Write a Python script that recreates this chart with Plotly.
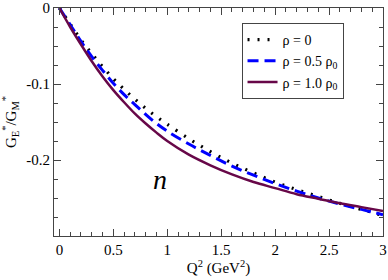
import plotly.graph_objects as go

q2_rho0 = [0, 0.1, 0.2, 0.3, 0.4, 0.5, 0.6, 0.7, 0.8, 0.9, 1.0, 1.2, 1.4, 1.6, 1.8, 2.0, 2.2, 2.4, 2.6, 2.8, 3.0]
ratio_rho0 = [0, -0.021, -0.042, -0.060, -0.077, -0.093, -0.107, -0.120, -0.132, -0.143, -0.153,
              -0.172, -0.189, -0.204, -0.217, -0.229, -0.239, -0.248, -0.257, -0.265, -0.273]

q2_rho05 = [0, 0.1, 0.2, 0.3, 0.4, 0.5, 0.6, 0.7, 0.8, 0.9, 1.0, 1.2, 1.4, 1.6, 1.8, 2.0, 2.2, 2.4, 2.6, 2.8, 3.0]
ratio_rho05 = [0, -0.022, -0.044, -0.064, -0.082, -0.099, -0.114, -0.127, -0.140, -0.152, -0.162,
               -0.179, -0.194, -0.208, -0.220, -0.231, -0.241, -0.250, -0.258, -0.265, -0.272]

q2_rho10 = [0, 0.1, 0.2, 0.3, 0.4, 0.5, 0.6, 0.7, 0.8, 0.9, 1.0, 1.2, 1.4, 1.6, 1.8, 2.0, 2.2, 2.4, 2.6, 2.8, 3.0]
ratio_rho10 = [0, -0.025, -0.048, -0.070, -0.090, -0.108, -0.124, -0.139, -0.152, -0.164, -0.175,
               -0.193, -0.207, -0.219, -0.229, -0.237, -0.245, -0.251, -0.257, -0.262, -0.267]

names = ["ρ = 0", "ρ = 0.5 ρ<sub>0</sub>", "ρ = 1.0 ρ<sub>0</sub>"]

x_tickvals = [0, 0.5, 1, 1.5, 2, 2.5, 3]
x_ticktext = ["0", "0.5", "1", "1.5", "2", "2.5", "3"]
y_tickvals = [0, -0.1, -0.2, -0.3]
y_ticktext = ["0", "-0.1", "-0.2", ""]

FONT = "Liberation Serif"

fig = go.Figure()
fig.add_trace(go.Scatter(x=q2_rho0, y=ratio_rho0, mode="lines", name=names[0],
                         line=dict(color="black", width=3.2, dash="2px,8px", shape="spline")))
fig.add_trace(go.Scatter(x=q2_rho05, y=ratio_rho05, mode="lines", name=names[1],
                         line=dict(color="#0000ff", width=3, dash="11px,6px", shape="spline")))
fig.add_trace(go.Scatter(x=q2_rho10, y=ratio_rho10, mode="lines", name=names[2],
                         line=dict(color="#670748", width=2.5, shape="spline")))

axis_common = dict(showline=True, linecolor="#444", linewidth=1, mirror="ticks",
                   ticks="inside", ticklen=7, tickcolor="#444", showgrid=False,
                   zeroline=False, automargin=False, ticklabeloverflow="allow",
                   tickfont=dict(family=FONT, size=15, color="black"))

fig.update_xaxes(range=[-0.05, 3], tickvals=x_tickvals, ticktext=x_ticktext,
                 minor=dict(dtick=0.1, tick0=0, ticks="inside", ticklen=4, tickcolor="#444"),
                 title=dict(text="Q<sup>2</sup> (GeV<sup>2</sup>)", font=dict(family=FONT, size=15, color="black"),
                            standoff=0),
                 **axis_common)
fig.update_yaxes(range=[-0.3, 0], tickvals=y_tickvals, ticktext=y_ticktext,
                 minor=dict(dtick=0.025, tick0=0, ticks="inside", ticklen=4, tickcolor="#444"),
                 title=dict(text="G<sub>E</sub><sup>*</sup>/G<sub>M</sub><sup>*</sup>",
                            font=dict(family=FONT, size=15, color="black"), standoff=6),
                 **axis_common)

fig.add_annotation(x=0.93, y=-0.225, text="<i>n</i>", showarrow=False,
                   font=dict(family=FONT, size=28, color="black"))

fig.update_layout(
    width=388, height=280,
    margin=dict(l=54, r=5, t=8, b=44),
    plot_bgcolor="white", paper_bgcolor="white",
    legend=dict(x=0.57, y=0.934, xanchor="left", yanchor="top",
                bordercolor="#444", borderwidth=1, bgcolor="white",
                font=dict(family=FONT, size=14, color="black"),
                tracegroupgap=0, itemwidth=30),
    showlegend=True,
)

fig.write_html("out.html", config={"displayModeBar": False},
               post_script="document.body.style.margin='0';document.body.style.overflow='hidden';")
